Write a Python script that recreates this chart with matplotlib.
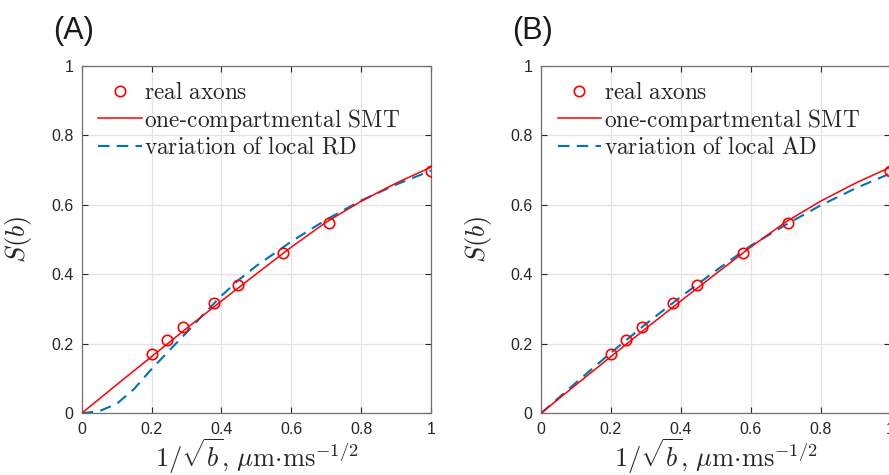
import numpy as np
import matplotlib
matplotlib.use("Agg")
import matplotlib.pyplot as plt

plt.rcParams['mathtext.fontset'] = 'cm'
plt.rcParams['font.family'] = ['Liberation Sans', 'DejaVu Sans']

# measured signal, x = 1/sqrt(b)
x_axons = [0.2, 0.243, 0.289, 0.378, 0.447, 0.577, 0.707, 1.0]
s_axons = [0.171, 0.211, 0.247, 0.318, 0.368, 0.460, 0.548, 0.698]

# one-compartmental SMT fit
x_smt = [0, 0.1, 0.2, 0.3, 0.4, 0.5, 0.6, 0.7, 0.8, 0.9, 1.0]
s_smt = [0, 0.082, 0.163, 0.244, 0.323, 0.401, 0.478, 0.550, 0.610, 0.662, 0.708]

# variation of local RD
x_rd = [0, 0.05, 0.1, 0.15, 0.2, 0.25, 0.3, 0.35, 0.4, 0.45, 0.5, 0.6, 0.7, 0.8, 0.9, 1.0]
s_rd = [0, 0.006, 0.027, 0.070, 0.127, 0.180, 0.232, 0.286, 0.338, 0.384, 0.424, 0.494, 0.557, 0.612, 0.658, 0.698]

# variation of local AD
x_ad = [0, 0.1, 0.2, 0.3, 0.4, 0.5, 0.6, 0.7, 0.8, 0.9, 1.0]
s_ad = [0, 0.088, 0.174, 0.257, 0.335, 0.410, 0.482, 0.542, 0.598, 0.647, 0.690]

ticks = [0, 0.2, 0.4, 0.6, 0.8, 1]
tick_labels = ['0', '0.2', '0.4', '0.6', '0.8', '1']

panels = [
    ('(A)', x_rd, s_rd, 'variation of local RD', 0.0919),
    ('(B)', x_ad, s_ad, 'variation of local AD', 0.6086),
]

fig = plt.figure(figsize=(8.89, 4.75), dpi=100)

for tag, xv, sv, var_label, left in panels:
    ax = fig.add_axes([left, 0.13, 0.393, 0.7318])
    ax.plot(x_axons, s_axons, 'o', color='#ff0000', mfc='none', ms=7.5, mew=1.2,
            label=r'$\mathrm{real\ axons}$', zorder=4)
    ax.plot(x_smt, s_smt, '-', color='#ff0000', lw=1.1,
            label=r'$\mathrm{one}$-$\mathrm{compartmental\ SMT}$', zorder=3)
    ax.plot(xv, sv, '--', color='#0072BD', lw=1.5, dashes=(5.5, 3.5),
            label=r'$\mathrm{' + var_label.replace(' ', r'\ ') + '}$', zorder=2)

    ax.set_xlim(0, 1)
    ax.set_ylim(0, 1)
    ax.set_xticks(ticks)
    ax.set_yticks(ticks)
    ax.set_xticklabels(tick_labels)
    ax.set_yticklabels(tick_labels)
    ax.grid(True, color='#e3e3e3', lw=0.9)
    ax.set_axisbelow(True)
    ax.tick_params(direction='in', length=4, width=0.8, top=True, right=True,
                   labelsize=11.5, colors='#262626', pad=6)
    for sp in ax.spines.values():
        sp.set_color('#707070')
        sp.set_linewidth(0.9)

    ax.set_xlabel(r'$1/\sqrt{b},\,\mu\mathrm{m}{\cdot}\mathrm{ms}^{-1/2}$', fontsize=19,
                  labelpad=0, color='#262626')
    ax.set_ylabel(r'$S(b)$', fontsize=19, labelpad=12, color='#262626')

    leg = ax.legend(loc='upper left', frameon=False, fontsize=16.8,
                    handlelength=1.85, handletextpad=0.12, labelspacing=0.1,
                    borderaxespad=0.3, bbox_to_anchor=(0.001, 1.002))
    for t in leg.get_texts():
        t.set_color('#262626')

    fig.text(left - 0.032, 0.935, tag, fontsize=22, ha='left', va='center',
             color='#1a1a1a')

fig.savefig('out.png', dpi=100)
